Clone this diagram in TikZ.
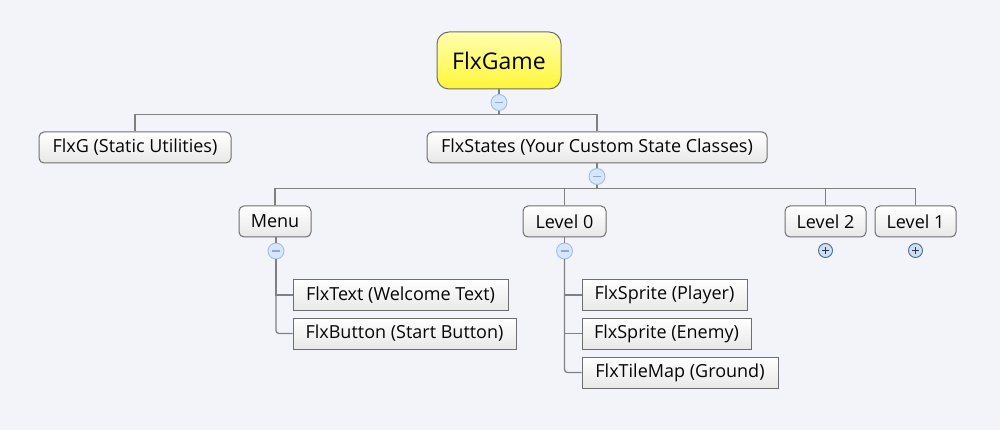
\documentclass[tikz,border=0pt]{standalone}
\usepackage{fontspec}
\setmainfont{Open Sans}
\begin{document}
\definecolor{bgc}{RGB}{243,244,249}
\definecolor{linec}{RGB}{128,128,128}
\definecolor{boxline}{RGB}{110,110,110}
\definecolor{txtc}{RGB}{5,5,5}
\definecolor{ytop}{RGB}{255,255,175}
\definecolor{ybot}{RGB}{255,246,55}
\definecolor{gtop}{RGB}{255,255,255}
\definecolor{gbot}{RGB}{232,232,232}
\definecolor{mfill}{RGB}{214,230,251}
\definecolor{mline}{RGB}{160,190,236}
\definecolor{msign}{RGB}{140,168,214}
\definecolor{pfill}{RGB}{205,223,243}
\definecolor{pline}{RGB}{78,106,138}
\definecolor{psign}{RGB}{40,55,75}
\begin{tikzpicture}[x=1pt,y=-1pt,
  base/.style={draw=boxline,line width=1pt,top color=gtop,bottom color=gbot,
    text=txtc,inner sep=0pt,minimum height=31pt,
    font=\fontsize{18}{20}\selectfont},
  topic/.style={base,rounded corners=5pt},
  leaf/.style={base},
  rootbox/.style={draw=boxline,line width=1pt,top color=ytop,bottom color=ybot,
    rounded corners=12pt,text=txtc,inner sep=0pt,minimum width=124pt,minimum height=57pt,
    font=\fontsize{23}{26}\selectfont},
  conn/.style={draw=linec,line width=1.3pt},
  minusc/.style={circle,draw=mline,fill=mfill,line width=0.9pt,minimum size=16pt,inner sep=0pt},
  plusc/.style={circle,draw=pline,fill=pfill,line width=0.9pt,minimum size=14pt,inner sep=0pt},
]
\useasboundingbox (0,0) rectangle (1000,430);
\fill[bgc] (0,0) rectangle (1000,430);

% nodes
\node[rootbox] (game) at (499,60.5) {FlxGame};
\node[topic,minimum width=192pt] (flxg) at (135,147.5) {FlxG (Static Utilities)};
\node[topic,minimum width=340pt] (states) at (597,147.5) {FlxStates (Your Custom State Classes)};
\node[topic,minimum width=72pt] (menu) at (275,221.5) {Menu};
\node[topic,minimum width=83pt] (level0) at (564.5,221.5) {Level 0};
\node[topic,minimum width=81pt] (level2) at (825.5,221.5) {Level 2};
\node[topic,minimum width=81pt] (level1) at (915.5,221.5) {Level 1};
\node[leaf,minimum width=215pt] (text) at (400.5,295) {FlxText (Welcome Text)};
\node[leaf,minimum width=223pt] (button) at (404.5,333.5) {FlxButton (Start Button)};
\node[leaf,minimum width=165pt] (player) at (664.5,295) {FlxSprite (Player)};
\node[leaf,minimum width=169pt] (enemy) at (666.5,333.5) {FlxSprite (Enemy)};
\node[leaf,minimum width=196pt] (tilemap) at (680,372.5) {FlxTileMap (Ground)};

% collapse markers
\node[minusc] (c0) at (499,102.5) {};
\node[minusc] (c1) at (597,176.5) {};
\node[minusc] (cm) at (276,251) {};
\node[minusc] (cl0) at (564.5,251) {};
\node[plusc] (cl2) at (825.5,250.5) {};
\node[plusc] (cl1) at (915.5,250.5) {};

\coordinate (b0) at (499,114.5);
\coordinate (b1) at (597,188.5);

% connectors
\draw[conn] (game.south) -- (c0.north);
\draw[conn] (c0.south) -- (b0);
\draw[conn] (flxg.north) |- (b0) -| (states.north);
\draw[conn] (states.south) -- (c1.north);
\draw[conn] (c1.south) -- (b1);
\draw[conn] (menu.north) |- (b1) -| (level1.north);
\draw[conn] (level0.north) |- (b1);
\draw[conn] (level2.north) |- (b1);
\draw[conn] (menu.south -| cm) -- (cm.north);
\draw[conn] (level0.south) -- (cl0.north);
\draw[conn] (cm.south) |- (text.west);
\draw[conn,rounded corners=3pt] (cm.south) |- (button.west);
\draw[conn] (cl0.south) |- (player.west);
\draw[conn] (cl0.south) |- (enemy.west);
\draw[conn,rounded corners=3pt] (cl0.south) |- (tilemap.west);

% marker signs
\foreach \c in {c0,c1,cm,cl0}{
  \draw[msign,line width=1.2pt] ([xshift=-4pt]\c.center) -- ([xshift=4pt]\c.center);
}
\foreach \c in {cl2,cl1}{
  \draw[psign,line width=1pt] ([xshift=-3.5pt]\c.center) -- ([xshift=3.5pt]\c.center);
  \draw[psign,line width=1pt] ([yshift=-3.5pt]\c.center) -- ([yshift=3.5pt]\c.center);
}
\end{tikzpicture}
\end{document}
